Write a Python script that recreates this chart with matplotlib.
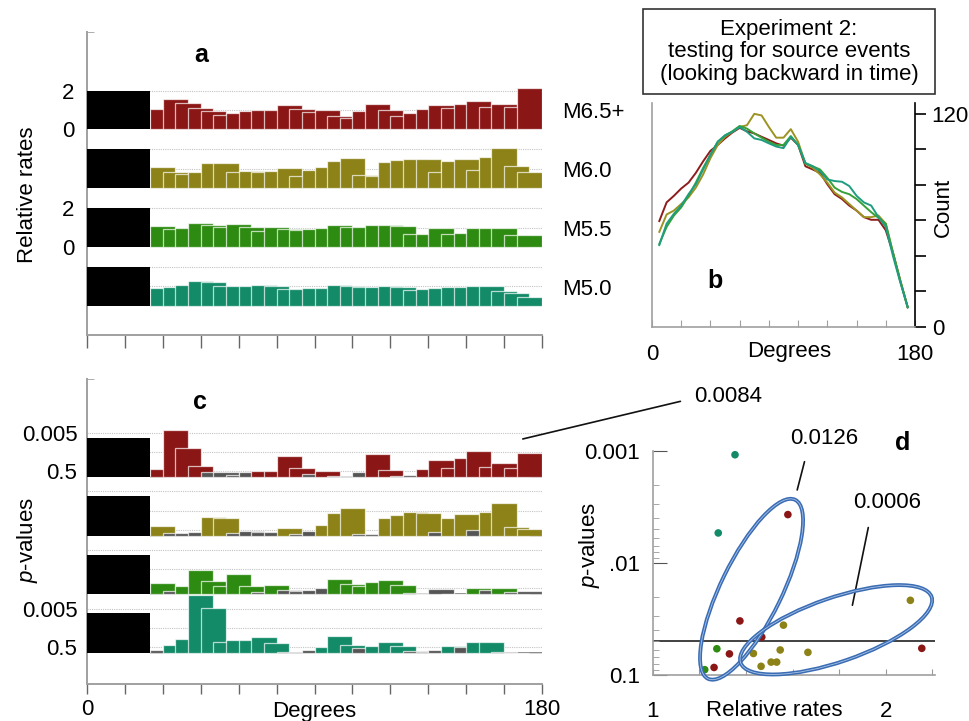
import matplotlib
matplotlib.use("Agg")
import matplotlib.pyplot as plt
from matplotlib.patches import Ellipse, Rectangle
from matplotlib.transforms import ScaledTranslation
from matplotlib.ticker import NullFormatter, LogLocator

plt.rcParams['font.family'] = ['Liberation Sans', 'DejaVu Sans']
plt.rcParams['font.size'] = 16
plt.rcParams['mathtext.fontset'] = 'custom'
plt.rcParams['mathtext.it'] = 'Liberation Sans:italic'
plt.rcParams['mathtext.rm'] = 'Liberation Sans'

# ---------------------------------------------------------------- data
magnitudes = ['M6.5+', 'M6.0', 'M5.5', 'M5.0']
bar_colors = ['#8b1616', '#8c8217', '#2e8b12', '#138a68']
line_colors = ['#8e1c1c', '#9c9322', '#37a037', '#1e9d80']
deficit_color = '#555555'

# sliding 10-degree windows, stepped every 5 degrees
window_starts = list(range(25, 175, 5))
WINDOW = 10
MASK_END = 25          # degrees hidden by the black block

# relative rates per window (panel a)
rate_m65 = [1.03, 1.55, 1.38, 1.12, 0.95, 0.74, 0.83, 0.97, 1.02, 1.02,
            1.24, 1.07, 0.91, 1.02, 0.69, 0.60, 0.95, 1.31, 1.02, 0.69,
            0.83, 1.03, 1.26, 1.09, 1.31, 1.45, 1.14, 1.29, 1.14, 2.14]
rate_m60 = [1.11, 0.82, 0.74, 0.85, 1.32, 1.28, 0.84, 0.91, 0.82, 0.89,
            1.03, 0.63, 0.94, 1.11, 1.40, 1.54, 0.68, 0.65, 1.33, 1.45,
            1.52, 1.49, 0.85, 1.40, 1.49, 0.94, 1.62, 2.08, 1.15, 0.85]
rate_m55 = [1.06, 0.92, 1.00, 1.24, 1.11, 1.04, 1.18, 1.03, 0.84, 1.03,
            0.92, 0.89, 0.92, 0.96, 1.11, 1.04, 1.03, 1.11, 1.14, 1.06,
            0.67, 0.67, 0.96, 0.67, 0.72, 0.96, 0.96, 0.99, 0.60, 0.60]
rate_m50 = [0.89, 0.98, 1.07, 1.30, 1.22, 1.03, 1.03, 1.03, 1.05, 1.00,
            0.84, 0.84, 0.91, 0.92, 1.09, 1.03, 0.95, 0.95, 1.03, 0.94,
            0.82, 0.84, 0.89, 0.96, 0.96, 1.03, 1.03, 0.77, 0.63, 0.46]
RATE_MASK = 2.0

# -log10(p) per window (panel c)
nlp_m65 = [0.43, 2.47, 1.51, 0.56, 0.26, 0.23, 0.09, 0.26, 0.31, 0.31,
           1.08, 0.47, 0.17, 0.31, 0.04, 0.04, 0.26, 1.18, 0.38, 0.07,
           0.12, 0.43, 0.90, 0.47, 1.00, 1.36, 0.52, 0.73, 0.47, 1.25]
nlp_m60 = [0.50, 0.12, 0.12, 0.19, 0.99, 0.90, 0.12, 0.24, 0.17, 0.21,
           0.38, 0.07, 0.26, 0.54, 1.20, 1.46, 0.07, 0.07, 0.89, 1.08,
           1.25, 1.20, 0.19, 0.90, 1.11, 0.30, 1.22, 1.69, 0.47, 0.33]
nlp_m55 = [0.56, 0.19, 0.40, 1.25, 0.68, 0.40, 1.06, 0.40, 0.10, 0.47,
           0.24, 0.19, 0.24, 0.31, 0.77, 0.54, 0.45, 0.64, 0.73, 0.49,
           0.07, 0.02, 0.28, 0.02, 0.02, 0.30, 0.24, 0.33, 0.12, 0.16]
nlp_m50 = [0.16, 0.40, 0.71, 3.03, 2.33, 0.57, 0.68, 0.68, 0.80, 0.50,
           0.02, 0.02, 0.16, 0.30, 0.89, 0.42, 0.23, 0.33, 0.54, 0.35,
           0.07, 0.05, 0.12, 0.33, 0.28, 0.54, 0.54, 0.02, 0.00, 0.00]
NLP_MASK = 2.05

# windows (by start degree) showing a deficit rather than an excess
deficit_m65 = [45, 50, 55, 60, 85, 95, 100, 105, 120, 125]
deficit_m60 = [30, 35, 40, 55, 60, 65, 70, 80, 85, 105, 110, 135, 150]
deficit_m55 = [30, 65, 75, 80, 85, 90, 125, 130, 135, 140, 145, 155, 165, 170]
deficit_m50 = [25, 75, 80, 85, 105, 125, 130, 135, 145, 160, 165, 170]

# panel b: event counts versus angle
count_deg = list(range(5, 180, 5))
count_m65 = [59.6, 70.1, 73.8, 77.9, 81.2, 86.7, 93.2, 99.1, 102.4, 106.1,
             109.4, 112.0, 110.1, 108.9, 107.0, 105.2, 103.3, 102.0, 106.5, 102.4,
             90.4, 88.6, 86.7, 80.3, 74.7, 72.0, 68.3, 65.5, 61.8, 60.3,
             60.3, 54.4, 41.5, 25.8, 11.1]
count_m60 = [53.5, 63.3, 65.5, 69.2, 72.9, 78.4, 85.8, 95.0, 102.4, 107.0,
             109.8, 112.5, 113.5, 119.9, 119.0, 112.5, 106.5, 106.5, 111.3, 104.2,
             91.9, 89.5, 85.8, 81.2, 75.6, 72.9, 69.2, 65.5, 61.8, 61.8,
             62.7, 58.1, 41.5, 25.8, 11.1]
count_m55 = [46.7, 56.3, 62.7, 67.3, 73.8, 81.2, 89.5, 96.9, 104.2, 107.6,
             110.1, 113.1, 111.6, 108.9, 106.5, 104.2, 102.4, 102.4, 107.4, 102.4,
             91.9, 90.4, 88.6, 83.9, 78.4, 76.0, 74.7, 72.0, 68.3, 64.6,
             61.4, 58.1, 41.5, 25.8, 11.1]
count_m50 = [46.1, 58.1, 63.7, 68.3, 74.7, 80.3, 88.6, 96.9, 104.2, 107.9,
             109.8, 112.5, 109.8, 106.1, 105.2, 103.3, 101.5, 100.6, 107.0, 102.4,
             92.3, 90.4, 87.6, 83.0, 82.1, 81.7, 79.3, 73.8, 70.1, 68.3,
             61.8, 56.3, 39.7, 24.9, 11.1]

# panel d: overall relative rate and p-value per test
d_rate_m65 = [1.58, 1.374, 1.468, 1.329, 2.155, 1.263]
d_p_m65 = [0.0037, 0.033, 0.046, 0.065, 0.058, 0.086]
d_rate_m60 = [2.106, 1.561, 1.432, 1.547, 1.666, 1.508, 1.532, 1.465]
d_p_m60 = [0.0216, 0.036, 0.0645, 0.060, 0.063, 0.077, 0.077, 0.084]
d_rate_m55 = [1.275, 1.223]
d_p_m55 = [0.0585, 0.090]
d_rate_m50 = [1.353, 1.281]
d_p_m50 = [0.00108, 0.0054]
P_THRESHOLD = 0.05

rates = [rate_m65, rate_m60, rate_m55, rate_m50]
nlps = [nlp_m65, nlp_m60, nlp_m55, nlp_m50]
deficits = [deficit_m65, deficit_m60, deficit_m55, deficit_m50]
counts = [count_m65, count_m60, count_m55, count_m50]
d_rates = [d_rate_m65, d_rate_m60, d_rate_m55, d_rate_m50]
d_ps = [d_p_m65, d_p_m60, d_p_m55, d_p_m50]

# ---------------------------------------------------------------- figure
W, H = 970, 721
fig = plt.figure(figsize=(W / 100, H / 100), dpi=100)


def box(x0, y0, x1, y1):
    """Axes rectangle from pixel edges (top-left origin)."""
    return [x0 / W, 1 - y1 / H, (x1 - x0) / W, (y1 - y0) / H]


def ftext(x, y, s, **kw):
    fig.text(x / W, 1 - y / H, s, **kw)


SPINE = '#a0a0a0'
GRID = '#c4c4c4'

# ---------------------------------------------------------------- panel a
ax_a = fig.add_axes(box(87, 32, 542, 335))
off_a = [9.12, 6.08, 3.04, 0.0]
for off, vals, col in zip(off_a, rates, bar_colors):
    for lvl in (1, 2):
        ax_a.axhline(off + lvl, color=GRID, ls=(0, (1, 1)), lw=0.8, zorder=0)
    ax_a.bar(window_starts, vals, width=WINDOW, bottom=off, align='edge',
             color=col, edgecolor=(1, 1, 1, 0.7), linewidth=0.9, zorder=2)
    ax_a.bar(0, RATE_MASK, width=MASK_END, bottom=off, align='edge',
             color='black', edgecolor='none', zorder=3)
ax_a.set_xlim(0, 180)
ax_a.set_ylim(-1.52, 14.16)
ax_a.set_xticks(range(0, 181, 15))
ax_a.set_xticklabels([])
ax_a.tick_params(axis='x', direction='out', length=9, width=1, color='#666666')
ax_a.set_yticks([off_a[0] + 2, off_a[0], off_a[2] + 2, off_a[2]])
ax_a.set_yticklabels(['2', '0', '2', '0'])
ax_a.tick_params(axis='y', length=0, pad=9)
ax_a.set_yticks([14.16], minor=True)
ax_a.tick_params(axis='y', which='minor', direction='in', length=5, color=SPINE)
for s in ('top', 'right'):
    ax_a.spines[s].set_visible(False)
for s in ('left', 'bottom'):
    ax_a.spines[s].set_color(SPINE)
    ax_a.spines[s].set_linewidth(1.4)
for off, name in zip(off_a, magnitudes):
    ax_a.text(188, off + 0.85, name, ha='left', va='center', clip_on=False)

ftext(201, 55, 'a', fontsize=18, fontweight='bold', ha='center', va='center')
ftext(28, 195, 'Relative rates', rotation=90, ha='center', va='center')

# ---------------------------------------------------------------- panel c
ax_c = fig.add_axes(box(87, 379, 542, 684))
off_c = [9.18, 6.12, 3.06, 0.0]
for off, vals, col, defs in zip(off_c, nlps, bar_colors, deficits):
    for lvl in (0.301, 1.301, 2.301):
        ax_c.axhline(off + lvl, color=GRID, ls=(0, (1, 1)), lw=0.8, zorder=0)
    ax_c.hlines(off, MASK_END, 180, color='#6a6a6a', lw=1.2, zorder=1)
    cols = [deficit_color if s in defs else col for s in window_starts]
    ax_c.bar(window_starts, vals, width=WINDOW, bottom=off, align='edge',
             color=cols, edgecolor=(1, 1, 1, 0.7), linewidth=0.9, zorder=2)
    ax_c.bar(0, NLP_MASK, width=MASK_END, bottom=off, align='edge',
             color='black', edgecolor='none', zorder=3)
ax_c.set_xlim(0, 180)
ax_c.set_ylim(-1.63, 14.29)
ax_c.set_xticks(range(0, 181, 15))
ax_c.set_xticklabels(['0'] + [''] * 11 + ['180'])
ax_c.tick_params(axis='x', direction='out', length=7, width=1, color='#666666', pad=4)
ax_c.set_yticks([off_c[0] + 2.301, off_c[0] + 0.301, off_c[3] + 2.301, off_c[3] + 0.301])
ax_c.set_yticklabels(['0.005', '0.5', '0.005', '0.5'])
ax_c.tick_params(axis='y', length=0, pad=7)
ax_c.set_yticks([14.29], minor=True)
ax_c.tick_params(axis='y', which='minor', direction='in', length=5, color=SPINE)
for s in ('top', 'right'):
    ax_c.spines[s].set_visible(False)
for s in ('left', 'bottom'):
    ax_c.spines[s].set_color(SPINE)
    ax_c.spines[s].set_linewidth(1.4)
ax_c.text(0.5, -0.055, 'Degrees', transform=ax_c.transAxes, ha='center', va='top')

ftext(200, 402, 'c', fontsize=18, fontweight='bold', ha='center', va='center')
ftext(28, 540, '$p$-values', rotation=90, ha='center', va='center')

ax_c.annotate('0.0084', xy=(172.4, off_c[0] + 1.98), xycoords='data',
              xytext=(728 / W, 1 - 396 / H), textcoords='figure fraction',
              ha='center', va='center', annotation_clip=False,
              arrowprops=dict(arrowstyle='-', lw=1.2, color='#111111',
                              relpos=(0, 0.4), shrinkA=8, shrinkB=0))

# ---------------------------------------------------------------- panel b
ax_b = fig.add_axes(box(652, 103, 915, 327))
for vals, col in zip(counts, line_colors):
    ax_b.plot(count_deg, vals, color=col, lw=1.4)
ax_b.set_xlim(0, 180)
ax_b.set_ylim(0, 126)
ax_b.set_xticks(range(0, 181, 20))
ax_b.set_xticklabels(['0'] + [''] * 8 + ['180'])
ax_b.tick_params(axis='x', direction='in', length=5, color=SPINE, pad=12)
ax_b.yaxis.tick_right()
ax_b.set_yticks(range(0, 121, 20))
ax_b.set_yticklabels(['0', '', '', '', '', '', '120'])
ax_b.tick_params(axis='y', direction='out', length=8, width=1.2, color='black', pad=4)
ax_b.spines['top'].set_visible(False)
ax_b.spines['left'].set_color(SPINE)
ax_b.spines['bottom'].set_color(SPINE)
ax_b.spines['right'].set_color('black')
for s in ('left', 'bottom', 'right'):
    ax_b.spines[s].set_linewidth(1.2)
ax_b.text(0.52, -(352 - 327) / 224, 'Degrees', transform=ax_b.transAxes,
          ha='center', va='center')
ftext(943, 207, 'Count', rotation=90, ha='center', va='center')
ftext(715, 281, 'b', fontsize=18, fontweight='bold', ha='center', va='center')

fig.add_artist(Rectangle((643 / W, 1 - 94 / H), 292 / W, 85 / H,
                         transform=fig.transFigure, fill=False,
                         edgecolor='#333333', lw=1.2))
ftext(789, 52, 'Experiment 2:\ntesting for source events\n(looking backward in time)',
      ha='center', va='center', linespacing=1.1)

# ---------------------------------------------------------------- panel d
ax_d = fig.add_axes(box(652.8, 451, 934.6, 674.8))
ax_d.set_yscale('log')
ax_d.set_xlim(1, 2.21)
ax_d.set_ylim(0.1, 0.001)
ax_d.axhline(P_THRESHOLD, color='#333333', lw=1.3, zorder=1)
for xs, ps, col in zip(d_rates, d_ps, bar_colors):
    ax_d.scatter(xs, ps, s=30, color=col, edgecolor='none', zorder=3, clip_on=False)

ax_d.set_yticks([0.001, 0.01, 0.1])
ax_d.set_yticklabels(['0.001', '.01', '0.1'])
ax_d.yaxis.set_minor_locator(LogLocator(base=10, subs=range(2, 10)))
ax_d.yaxis.set_minor_formatter(NullFormatter())
ax_d.tick_params(axis='y', which='major', direction='in', length=10, color='#555555', pad=9)
ax_d.tick_params(axis='y', which='minor', direction='in', length=4, color='#999999')
ax_d.set_xticks([1.0, 1.2, 1.4, 1.6, 1.8, 2.0, 2.2])
ax_d.set_xticklabels(['1', '', '', '', '', '2', ''])
ax_d.tick_params(axis='x', direction='in', length=4, color='#999999', pad=19)
for s in ('top', 'right'):
    ax_d.spines[s].set_visible(False)
for s in ('left', 'bottom'):
    ax_d.spines[s].set_color(SPINE)
    ax_d.spines[s].set_linewidth(1.2)
ax_d.text(0.43, -(711 - 674.8) / 223.8, 'Relative rates', transform=ax_d.transAxes,
          ha='center', va='center')
ftext(590, 545, '$p$-values', rotation=90, ha='center', va='center')
ftext(903, 443, 'd', fontsize=18, fontweight='bold', ha='center', va='center')

# groupings of tests, drawn in physical units around a data-space centre
for (cx, cp, w_in, h_in, ang) in [(1.424, 0.0172, 1.99, 0.61, 64),
                                  (1.787, 0.0396, 2.02, 0.64, 19)]:
    tr = fig.dpi_scale_trans + ScaledTranslation(cx, cp, ax_d.transData)
    for lw, ec in ((2.8, '#3a6cb4'), (0.6, '#a9c3e6')):
        e = Ellipse((0, 0), w_in, h_in, angle=ang, transform=tr,
                    facecolor='none', edgecolor=ec, lw=lw, zorder=4, clip_on=False)
        fig.add_artist(e)

ax_d.annotate('0.0126', xy=(1.62, 0.00223), xycoords='data',
              xytext=(824 / W, 1 - 439 / H), textcoords='figure fraction',
              ha='center', va='center', annotation_clip=False,
              arrowprops=dict(arrowstyle='-', lw=1.2, color='#111111',
                              relpos=(0.26, 0), shrinkA=7, shrinkB=0))
ax_d.annotate('0.0006', xy=(1.857, 0.0239), xycoords='data',
              xytext=(887 / W, 1 - 502 / H), textcoords='figure fraction',
              ha='center', va='center', annotation_clip=False,
              arrowprops=dict(arrowstyle='-', lw=1.2, color='#111111',
                              relpos=(0.27, 0), shrinkA=9, shrinkB=0))

fig.savefig('out.png', dpi=100)
